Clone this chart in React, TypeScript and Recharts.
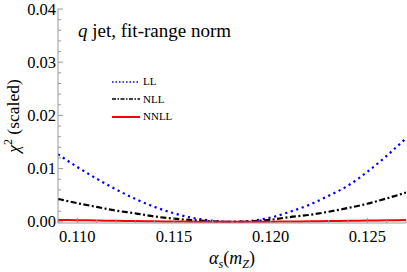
import React from 'react';
import { LineChart, Line, XAxis, YAxis, Legend } from 'recharts';

// alpha_s(m_Z) sample points
const alphaS = [
  0.109, 0.11, 0.111, 0.112, 0.113, 0.114, 0.115, 0.116, 0.117, 0.118,
  0.119, 0.12, 0.121, 0.122, 0.123, 0.124, 0.125, 0.126, 0.127,
];

// scaled chi^2
const chi2LL = [
  0.0127, 0.0103, 0.0081, 0.0061, 0.0043, 0.0028, 0.0016, 0.0007, 0.0002, 0.0,
  0.0002, 0.0008, 0.0019, 0.0032, 0.0049, 0.0068, 0.0094, 0.0124, 0.0157,
];
const chi2NLL = [
  0.0043, 0.0035, 0.0028, 0.0021, 0.0016, 0.001, 0.0006, 0.0003, 0.0001, 0.0,
  0.0001, 0.0004, 0.0009, 0.0013, 0.0019, 0.0026, 0.0034, 0.0044, 0.0055,
];
const chi2NNLL = [
  0.00035, 0.0003, 0.00025, 0.0002, 0.00015, 0.0001, 0.00006, 0.00003, 0.00001, 0.0,
  0.00001, 0.00003, 0.00006, 0.0001, 0.00014, 0.00018, 0.00023, 0.00028, 0.00034,
];

const seriesNames = ['LL', 'NLL', 'NNLL'];

const xTicks = [
  0.109, 0.11, 0.111, 0.112, 0.113, 0.114, 0.115, 0.116, 0.117, 0.118,
  0.119, 0.12, 0.121, 0.122, 0.123, 0.124, 0.125, 0.126, 0.127,
];
const yTicks = [
  0, 0.002, 0.004, 0.006, 0.008, 0.01, 0.012, 0.014, 0.016, 0.018, 0.02,
  0.022, 0.024, 0.026, 0.028, 0.03, 0.032, 0.034, 0.036, 0.038, 0.04,
];

const data = alphaS.map((x, i) => ({
  x,
  LL: chi2LL[i],
  NLL: chi2NLL[i],
  NNLL: chi2NNLL[i],
}));

const styles: Record<string, { stroke: string; width: number; dash?: string; legendDash?: string; legendWidth: number }> = {
  LL: { stroke: '#0000ff', width: 2.2, dash: '2.2 3.6', legendDash: '1.5 2', legendWidth: 1.5 },
  NLL: { stroke: '#000000', width: 2.2, dash: '6 2.5 2 2.5', legendDash: '4 1.5 1.5 1.5', legendWidth: 1.5 },
  NNLL: { stroke: '#ff0000', width: 2, legendWidth: 2 },
};

const FONT = '"Liberation Serif", "Times New Roman", serif';
const FRAME = '#999999';

const isMajor = (v: number, step: number) => Math.abs(v / step - Math.round(v / step)) < 1e-6;

const XTick = (props: any) => {
  const { x, y, payload, side } = props;
  const v = payload.value;
  const major = isMajor(v, 0.005);
  const len = major ? 5 : 3;
  const dir = side === 'bottom' ? -1 : 1;
  return (
    <g>
      <line x1={x} x2={x} y1={y} y2={y + dir * len} stroke={FRAME} strokeWidth={1} />
      {side === 'bottom' && major && (
        <text x={x} y={y + 19} textAnchor="middle" fontFamily={FONT} fontSize={16.5} fill="#000">
          {v.toFixed(3)}
        </text>
      )}
    </g>
  );
};

const YTick = (props: any) => {
  const { x, y, payload, side } = props;
  const v = payload.value;
  const major = isMajor(v, 0.01);
  const len = major ? 5 : 3;
  const dir = side === 'left' ? 1 : -1;
  return (
    <g>
      <line x1={x} x2={x + dir * len} y1={y} y2={y} stroke={FRAME} strokeWidth={1} />
      {side === 'left' && major && (
        <text x={x - 2} y={y} dy="0.34em" textAnchor="end" fontFamily={FONT} fontSize={16.5} fill="#000">
          {v.toFixed(2)}
        </text>
      )}
    </g>
  );
};

const XLabel = (props: any) => {
  const vb = props.viewBox;
  return (
    <text x={vb.x + vb.width / 2} y={vb.y + 41} textAnchor="middle" fontFamily={FONT} fontSize={18} fill="#000">
      <tspan fontStyle="italic">α</tspan>
      <tspan fontStyle="italic" fontSize={12} dy={4}>s</tspan>
      <tspan dy={-4}>(</tspan>
      <tspan fontStyle="italic">m</tspan>
      <tspan fontStyle="italic" fontSize={12} dy={4}>Z</tspan>
      <tspan dy={-4}>)</tspan>
    </text>
  );
};

const YLabel = (props: any) => {
  const vb = props.viewBox;
  const cx = vb.x + 19;
  const cy = vb.y + vb.height / 2;
  return (
    <text x={cx} y={cy} textAnchor="middle" transform={`rotate(-90, ${cx}, ${cy})`} fontFamily={FONT} fontSize={17.5} fill="#000">
      <tspan fontStyle="italic">χ</tspan>
      <tspan fontSize={12} dy={-7}>2</tspan>
      <tspan dy={7}> (scaled)</tspan>
    </text>
  );
};

const renderLegend = () => (
  <div style={{ fontFamily: FONT, fontSize: 11, color: '#000' }}>
    {seriesNames.map((name) => {
      const s = styles[name];
      return (
        <div key={name} style={{ display: 'flex', alignItems: 'center', height: 17.5 }}>
          <svg width={31} height={10} style={{ display: 'block' }}>
            <line x1={0} x2={28} y1={5} y2={5} stroke={s.stroke} strokeWidth={s.legendWidth} strokeDasharray={s.legendDash} />
          </svg>
          <span style={{ lineHeight: '11px' }}>{name}</span>
        </div>
      );
    })}
  </div>
);

export default function App() {
  return (
    <div style={{ position: 'absolute', left: 0, top: 0, width: 407, height: 272, background: '#fff' }}>
      <LineChart width={407} height={272} data={data} margin={{ top: 9, right: 1, bottom: 0, left: 0 }}>
        <XAxis
          dataKey="x"
          type="number"
          domain={[0.109, 0.127]}
          allowDataOverflow
          ticks={xTicks}
          interval={0}
          height={49}
          stroke={FRAME}
          tickLine={false}
          tickSize={0}
          tickMargin={0}
          tick={<XTick side="bottom" />}
          label={{ content: XLabel }}
        />
        <XAxis
          xAxisId="top"
          orientation="top"
          type="number"
          domain={[0.109, 0.127]}
          allowDataOverflow
          ticks={xTicks}
          interval={0}
          height={0}
          stroke={FRAME}
          tickLine={false}
          tickSize={0}
          tickMargin={0}
          tick={<XTick side="top" />}
        />
        <YAxis
          type="number"
          domain={[-0.00022, 0.04]}
          allowDataOverflow
          ticks={yTicks}
          interval={0}
          width={58}
          stroke={FRAME}
          tickLine={false}
          tickSize={0}
          tickMargin={0}
          tick={<YTick side="left" />}
          label={{ content: YLabel }}
        />
        <YAxis
          yAxisId="right"
          orientation="right"
          type="number"
          domain={[-0.00022, 0.04]}
          allowDataOverflow
          ticks={yTicks}
          interval={0}
          width={0}
          stroke={FRAME}
          tickLine={false}
          tickSize={0}
          tickMargin={0}
          tick={<YTick side="right" />}
        />
        <Legend
          layout="vertical"
          align="center"
          verticalAlign="middle"
          wrapperStyle={{ left: 112, top: 73, width: 'auto' }}
          content={renderLegend}
        />
        {seriesNames.map((name) => (
          <Line
            key={name}
            dataKey={name}
            type="monotone"
            stroke={styles[name].stroke}
            strokeWidth={styles[name].width}
            strokeDasharray={styles[name].dash}
            dot={false}
            activeDot={false}
            isAnimationActive={false}
          />
        ))}
      </LineChart>
      <div
        style={{
          position: 'absolute',
          left: 78,
          top: 21,
          fontFamily: FONT,
          fontSize: 19,
          lineHeight: '19px',
          whiteSpace: 'nowrap',
          color: '#000',
        }}
      >
        <i>q</i> jet, fit-range norm
      </div>
    </div>
  );
}
